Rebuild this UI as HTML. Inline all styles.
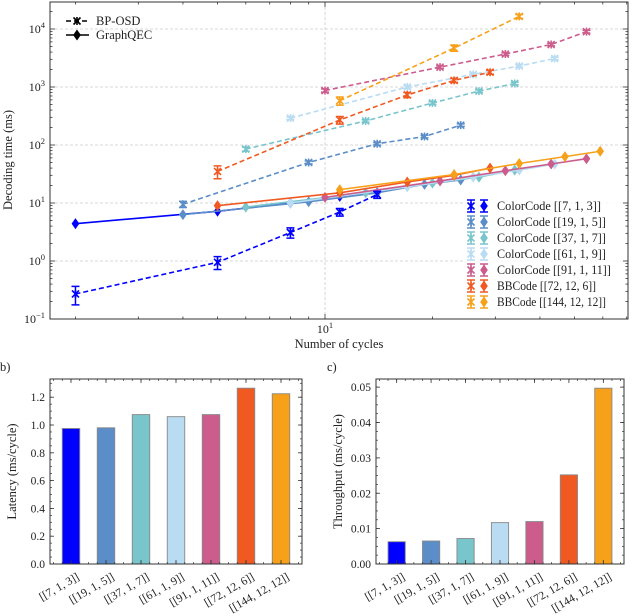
<!DOCTYPE html>
<html><head><meta charset="utf-8"><style>
body{margin:0;background:#fff}
svg{display:block;font-family:"Liberation Serif","DejaVu Serif",serif}
</style></head><body>
<svg id="fig" width="640" height="616" viewBox="0 0 640 616"></svg>
<script>
// ---- data: panel a ----
const seriesNames = ["ColorCode [[7, 1, 3]]","ColorCode [[19, 1, 5]]","ColorCode [[37, 1, 7]]","ColorCode [[61, 1, 9]]","ColorCode [[91, 1, 11]]","BBCode [[72, 12, 6]]","BBCode [[144, 12, 12]]"];
const seriesColors = ["#0000ff","#5b8ec8","#78c5cc","#b9dcf3","#cc5c8c","#f05a22","#f7a11a"];
const bpCycles = [[2,5,8,11,14],[4,9,14,19,24],[6,13,20,27,34],[8,17,26,35,44],[10,21,32,43,54],[5,11,17,23,29],[11,23,35]];
const bpTimes = [[0.27,0.95,3.1,7.0,14],[9.5,50,105,140,220],[85,260,530,850,1150],[290,1000,1650,2300,3100],[870,2200,3700,5400,9000],[35,270,730,1300,1800],[580,4700,16500]];
const bpErr = [[0.35,0.25,0.2,0.15,0.14],[0.12,0.06,0.05,0.05,0.05],[0.08,0.05,0.05,0.05,0.05],[0.05,0.05,0.05,0.05,0.05],[0.06,0.05,0.05,0.05,0.05],[0.25,0.15,0.1,0.08,0.08],[0.16,0.12,0.08]];
const gqCycles = [[2,5,8,11,14],[4,9,14,19,24],[6,13,20,27,34],[8,17,26,35,44],[10,21,32,43,54],[5,11,17,23,29],[11,23,35,47,59]];
const gqTimes = [[4.4,7.2,10,13,15],[6.3,10.5,15,21,25],[8.5,15,22,28,37],[10,19,28,37,47],[12.5,24,36,47,58],[9,15,23,30,40],[17,31,48,63,78]];
// ---- data: panels b, c ----
const codeLabels = ["[[7, 1, 3]]","[[19, 1, 5]]","[[37, 1, 7]]","[[61, 1, 9]]","[[91, 1, 11]]","[[72, 12, 6]]","[[144, 12, 12]]"];
const latency = [0.975,0.98,1.075,1.06,1.075,1.265,1.225];
const throughput = [0.0063,0.0065,0.0072,0.0117,0.012,0.0252,0.0497];
const latTicks = [0.0,0.2,0.4,0.6,0.8,1.0,1.2];
const thrTicks = [0.00,0.01,0.02,0.03,0.04,0.05];

const NS="http://www.w3.org/2000/svg";
const fig=document.getElementById('fig');
function mk(tag,attrs,parent,txt){const e=document.createElementNS(NS,tag);for(const k in attrs)e.setAttribute(k,attrs[k]);if(txt!==undefined)e.textContent=txt;(parent||fig).appendChild(e);return e;}

// ---------- panel a ----------
const A={l:50,r:628,t:2,b:319};
const xA=c=>325+357*Math.log10(c/10);
const yA=v=>261-58*Math.log10(v);
const ga=mk('g',{});


[0,1,2,3,4].forEach(p=>{const g=mk('line',{x1:A.l,x2:A.r,y1:yA(Math.pow(10,p)),y2:yA(Math.pow(10,p)),stroke:'#ccc','stroke-width':0.8,'stroke-dasharray':'3,2'},ga);});
{const g=mk('line',{x1:xA(10),x2:xA(10),y1:A.t,y2:A.b,stroke:'#ccc','stroke-width':0.8,'stroke-dasharray':'3,2'},ga);}
for(let p=-1;p<=4;p++){
  for(let m=1;m<10;m++){const v=m*Math.pow(10,p);const y=yA(v);if(y<A.t||y>A.b)continue;const len=m===1?5:2.5;
    mk('line',{x1:A.l,x2:A.l+len,y1:y,y2:y,stroke:'#333','stroke-width':0.8},ga);
    mk('line',{x1:A.r,x2:A.r-len,y1:y,y2:y,stroke:'#333','stroke-width':0.8},ga);}
  const lab=mk('text',{x:45,y:yA(Math.pow(10,p))+4,'text-anchor':'end','font-size':12,fill:'#222'},ga);
  
  mk('tspan',{},lab,'10');mk('tspan',{dy:-5,'font-size':8.5},lab,String(p).replace('-','\u2212'));
}
[2,3,4,5,6,7,8,9,10,20,30,40,50,60,70].forEach(c=>{const x=xA(c);if(x<A.l||x>A.r)return;const len=c===10?5:2.5;
  mk('line',{x1:x,x2:x,y1:A.b,y2:A.b-len,stroke:'#333','stroke-width':0.8},ga);
  mk('line',{x1:x,x2:x,y1:A.t,y2:A.t+len,stroke:'#333','stroke-width':0.8},ga);});
{const t=mk('text',{x:xA(10),y:333,'text-anchor':'middle','font-size':12,fill:'#222'},ga);mk('tspan',{},t,'10');mk('tspan',{dy:-5,'font-size':8.5},t,'1');}
{const t=mk('text',{x:339,y:348,'text-anchor':'middle','font-size':12.5,fill:'#222'},ga,'Number of cycles');}
{const t=mk('text',{x:0,y:0,transform:'translate(12,160) rotate(-90)','text-anchor':'middle','font-size':12.5,fill:'#222'},ga,'Decoding time (ms)');}

function xMarker(x,y,c,g){mk('path',{d:`M${x-3.5},${y-3.5}L${x+3.5},${y+3.5}M${x-3.5},${y+3.5}L${x+3.5},${y-3.5}M${x},${y-4}L${x},${y+4}`,stroke:c,'stroke-width':1.6,fill:'none'},g);}
function dMarker(x,y,c,g){mk('path',{d:`M${x},${y-5}L${x+3.5},${y}L${x},${y+5}L${x-3.5},${y}Z`,fill:c,stroke:c,'stroke-width':0.6},g);}

gqCycles.forEach((cs,i)=>{const g=mk('g',{},ga);
  
  mk('polyline',{points:cs.map((c,j)=>xA(c)+','+yA(gqTimes[i][j])).join(' '),fill:'none',stroke:seriesColors[i],'stroke-width':1.6},g);
  cs.forEach((c,j)=>dMarker(xA(c),yA(gqTimes[i][j]),seriesColors[i],g));});
bpCycles.forEach((cs,i)=>{const g=mk('g',{},ga);
  
  mk('polyline',{points:cs.map((c,j)=>xA(c)+','+yA(bpTimes[i][j])).join(' '),fill:'none',stroke:seriesColors[i],'stroke-width':1.6,'stroke-dasharray':'5,3'},g);
  cs.forEach((c,j)=>{const x=xA(c),v=bpTimes[i][j],e=bpErr[i][j];const y1=yA(v*(1+e)),y2=yA(v*(1-e));
    mk('path',{d:`M${x},${y1}L${x},${y2}M${x-4},${y1}L${x+4},${y1}M${x-4},${y2}L${x+4},${y2}`,stroke:seriesColors[i],'stroke-width':1.5,fill:'none'},g);
    xMarker(x,yA(v),seriesColors[i],g);});});
mk('rect',{x:A.l,y:A.t,width:A.r-A.l,height:A.b-A.t,fill:'none',stroke:'#333','stroke-width':1},ga);
{const g=mk('g',{},ga);
 mk('line',{x1:66,x2:89,y1:21,y2:21,stroke:'#000','stroke-width':1.6,'stroke-dasharray':'5,3'},g);xMarker(77,21,'#000',g);
 mk('text',{x:96,y:25,'font-size':12.5,fill:'#222'},g,'BP-OSD');
 mk('line',{x1:66,x2:89,y1:35,y2:35,stroke:'#000','stroke-width':1.6},g);dMarker(77,35,'#000',g);
 mk('text',{x:96,y:39,'font-size':12.5,fill:'#222'},g,'GraphQEC');}
{const g=mk('g',{},ga);
 mk('rect',{x:465,y:198,width:158,height:114,fill:'#fff','fill-opacity':0.85,stroke:'none'},g);
 seriesNames.forEach((n,i)=>{const y=206+16*i;const e=mk('g',{},g);
  
  const c=seriesColors[i];
  mk('path',{d:`M471,${y-6}L471,${y+6}M467,${y-6}L475,${y-6}M467,${y+6}L475,${y+6}`,stroke:c,'stroke-width':1.5},e);xMarker(471,y,c,e);
  mk('path',{d:`M484,${y-6}L484,${y+6}M480,${y-6}L488,${y-6}M480,${y+6}L488,${y+6}`,stroke:c,'stroke-width':1.5},e);dMarker(484,y,c,e);
  mk('text',{x:497,y:y+4,'font-size':12.5,fill:'#222',textLength:n.length*4.95,lengthAdjust:'spacingAndGlyphs'},e,n);});}

// ---------- bar panels ----------
function barPanel(name,label,lx,L,R,yTitle,vals,ticks,ymax,fmt){
  const T=379,B=564;const g=mk('g',{});
  
  const n=vals.length;const xb=i=>L+(R-L)*(i+0.6)/(n+0.2);const yb=v=>B-(B-T)*v/ymax;const w=(R-L)*0.5/(n+0.2);
  {const t=mk('text',{x:lx,y:371,'font-size':12.5,fill:'#222'},g,label);}
  vals.forEach((v,i)=>{const r=mk('rect',{x:xb(i)-w/2,y:yb(v),width:w,height:B-yb(v),fill:seriesColors[i],stroke:'#888','stroke-width':0.9},g);
    
    const t=mk('text',{x:0,y:0,transform:`translate(${xb(i)+9},${B+15}) rotate(-30)`,'text-anchor':'end','font-size':11.5,fill:'#222'},g,codeLabels[i]);
    
    mk('line',{x1:xb(i),x2:xb(i),y1:B,y2:B-4,stroke:'#333','stroke-width':0.8},g);mk('line',{x1:xb(i),x2:xb(i),y1:T,y2:T+4,stroke:'#333','stroke-width':0.8},g);});
  for(let k=0;k<=n*4;k++){const x=L+(R-L)*(k/4+0.1)/(n+0.2);if(x>R)break;mk('line',{x1:x,x2:x,y1:B,y2:B-2,stroke:'#333','stroke-width':0.7},g);mk('line',{x1:x,x2:x,y1:T,y2:T+2,stroke:'#333','stroke-width':0.7},g);}
  const step=ticks[1]-ticks[0];
  for(let v=0;v<=ymax+1e-9;v+=step/4){const y=yb(v);mk('line',{x1:L,x2:L+2,y1:y,y2:y,stroke:'#333','stroke-width':0.7},g);mk('line',{x1:R,x2:R-2,y1:y,y2:y,stroke:'#333','stroke-width':0.7},g);}
  ticks.forEach(v=>{const y=yb(v);mk('line',{x1:L,x2:L+4,y1:y,y2:y,stroke:'#333','stroke-width':0.8},g);mk('line',{x1:R,x2:R-4,y1:y,y2:y,stroke:'#333','stroke-width':0.8},g);
    const t=mk('text',{x:L-5,y:y+4,'text-anchor':'end','font-size':11.5,fill:'#222'},g,v.toFixed(fmt));});
  mk('rect',{x:L,y:T,width:R-L,height:B-T,fill:'none',stroke:'#333','stroke-width':1},g);
  const yt=mk('text',{x:0,y:0,transform:`translate(${L-34},${(T+B)/2}) rotate(-90)`,'text-anchor':'middle','font-size':12.5,fill:'#222'},g,yTitle);
  
}
barPanel('latency-chart','b)',0,50,302,'Latency (ms/cycle)',latency,latTicks,1.331,1);
barPanel('throughput-chart','c)',327,376,624,'Throughput (ms/cycle)',throughput,thrTicks,0.0523,2);
</script>
</body></html>
